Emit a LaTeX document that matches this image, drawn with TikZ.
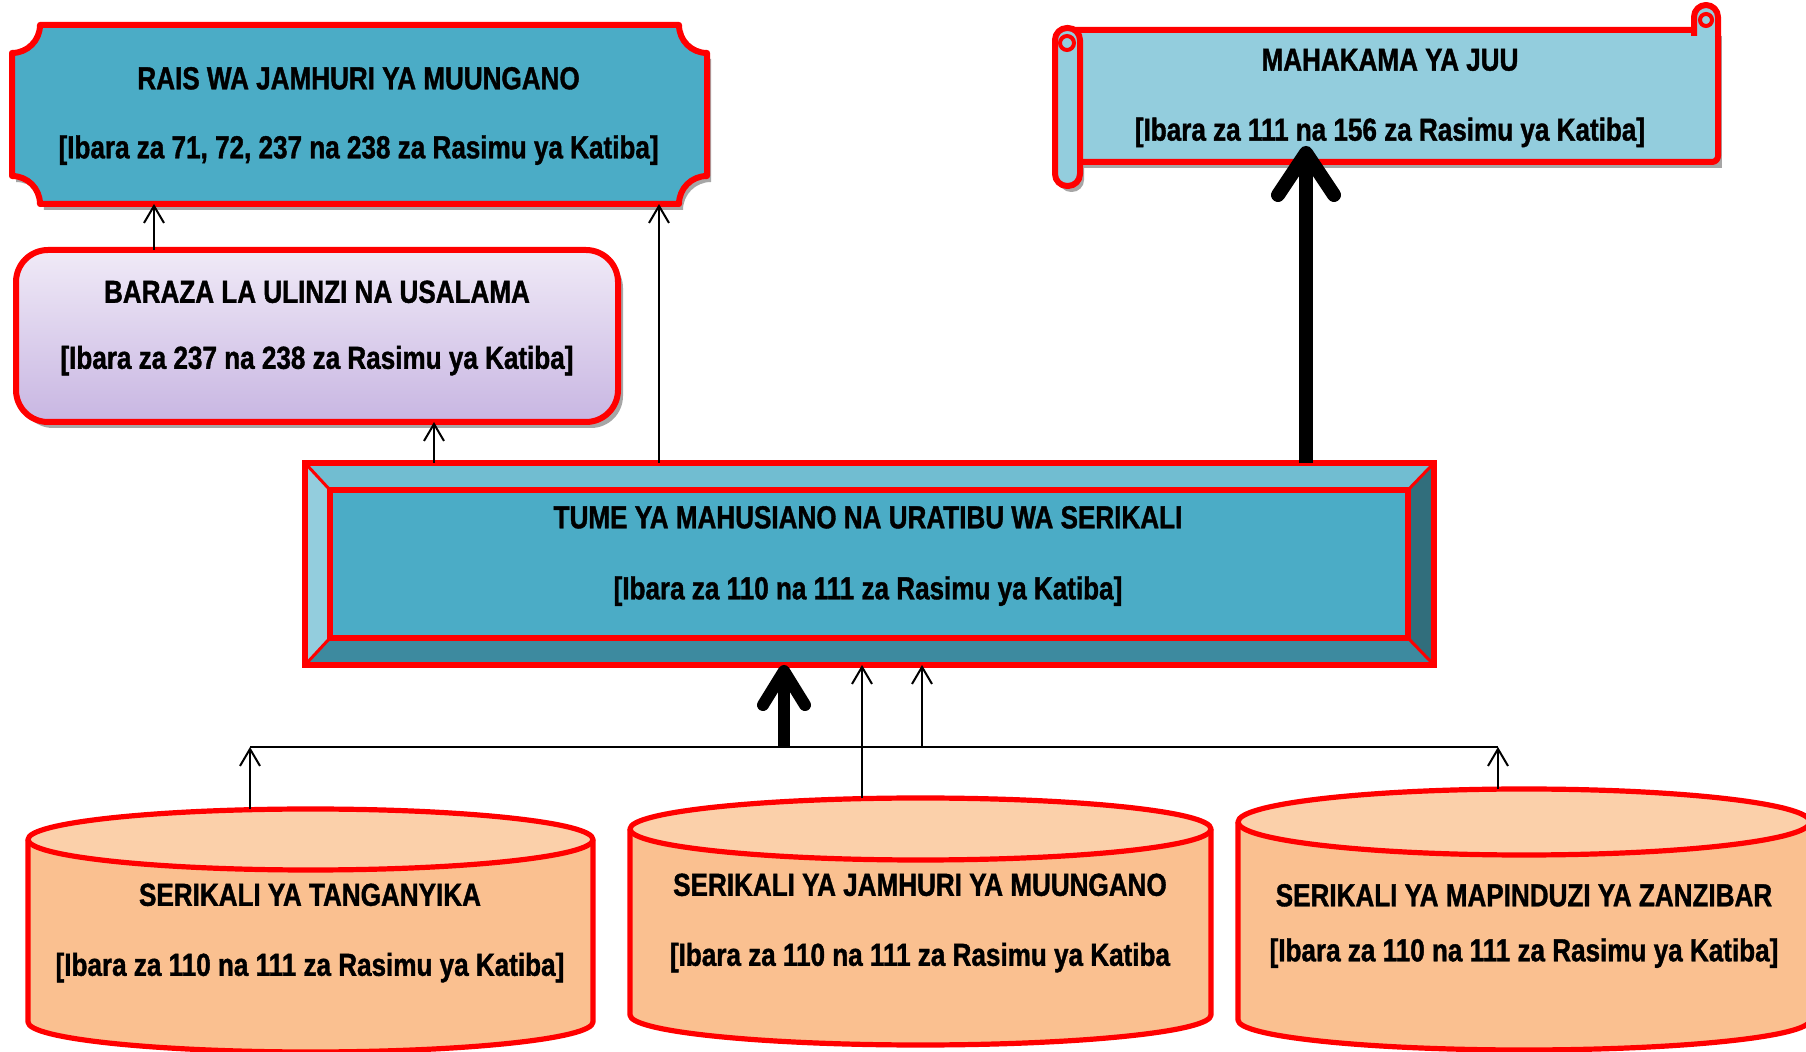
\documentclass[tikz,border=0pt]{standalone}
\usepackage{fontspec}
\setmainfont{Liberation Sans}[FakeStretch=0.82, BoldFeatures={FakeBold=1.2}]
\usetikzlibrary{arrows.meta}
\definecolor{plaqueblue}{HTML}{4BACC6}
\definecolor{scrollblue}{HTML}{93CDDD}
\definecolor{bvtop}{HTML}{71BDD1}
\definecolor{bvleft}{HTML}{93CDDD}
\definecolor{bvright}{HTML}{316E7C}
\definecolor{bvbot}{HTML}{3D8A9F}
\definecolor{cylbody}{HTML}{FAC090}
\definecolor{cyltop}{HTML}{FBD0AA}
\definecolor{lavtop}{HTML}{F0EAF7}
\definecolor{lavbot}{HTML}{C8B6E2}
\definecolor{shadowgray}{HTML}{A6A6A6}
\newcommand\lblf[1]{\fontsize{15.9}{#1}\selectfont\bfseries}
\begin{document}
\begin{tikzpicture}[x=0.5pt,y=-0.5pt,
  anch/.style={inner sep=0pt, outer sep=0pt, draw=none},
  lbl/.style={inner sep=0pt, align=center, text=black},
  redline/.style={draw=red, line width=3pt, line join=round},
  cylline/.style={draw=red, line width=2.6pt, line join=round},
  thinarr/.style={draw=black, line width=1pt, -{Straight Barb[length=8.5pt,width=10pt]}},
  bigarr/.style={draw=black, line width=7pt, -{Straight Barb[length=21pt,width=28pt,round]}},
  midarr/.style={draw=black, line width=6pt, -{Straight Barb[length=17pt,width=21pt,round]}},
  busline/.style={draw=black, line width=1pt}
]
\useasboundingbox (0,0) rectangle (1806,1052);
\fill[white] (0,0) rectangle (1806,1052);

% ---------- RAIS plaque ----------
\begin{scope}[shift={(4,6)}]
\fill[shadowgray] (40,25) -- (679,25) .. controls (679,40.5) and (691.5,53) .. (707,53) -- (707,176) .. controls (691.5,176) and (679,188.5) .. (679,204) -- (40,204) .. controls (40,188.5) and (27.5,176) .. (12,176) -- (12,53) .. controls (27.5,53) and (40,40.5) .. (40,25) -- cycle;
\end{scope}
\filldraw[fill=plaqueblue, redline] (40,25) -- (679,25) .. controls (679,40.5) and (691.5,53) .. (707,53) -- (707,176) .. controls (691.5,176) and (679,188.5) .. (679,204) -- (40,204) .. controls (40,188.5) and (27.5,176) .. (12,176) -- (12,53) .. controls (27.5,53) and (40,40.5) .. (40,25) -- cycle;
\node[anch, minimum width=347.5pt, minimum height=89.5pt] (rais) at (359.5,114.5) {};
\node[lbl, font=\lblf{34.5}] (rais-t) at (358.6,116) {RAIS WA JAMHURI YA MUUNGANO\\{[}Ibara za 71, 72, 237 na 238 za Rasimu ya Katiba]};

% ---------- MAHAKAMA scroll ----------
\fill[shadowgray] (1071,36) rectangle (1722,168);
\fill[shadowgray, rounded corners=6pt] (1059,34) rectangle (1084,192);
\filldraw[fill=scrollblue, redline, rounded corners=3pt] (1067,30) rectangle (1718,162);
\filldraw[fill=scrollblue, redline, rounded corners=6pt] (1694,36) -- (1694,5) -- (1718,5) -- (1718,36);
\draw[red, line width=2pt] (1706,20) circle[radius=6];
\filldraw[fill=scrollblue, redline, rounded corners=6pt] (1055,28) rectangle (1080,186);
\draw[red, line width=2pt] (1067,43) circle[radius=7];
\node[lbl, font=\lblf{35}] (mahakama) at (1390,98) {MAHAKAMA YA JUU\\{[}Ibara za 111 na 156 za Rasimu ya Katiba]};

% ---------- BARAZA ----------
\fill[shadowgray, rounded corners=16pt] (21,256) rectangle (623,428);
\node[anch, draw=red, line width=3pt, rounded corners=16pt, top color=lavtop, bottom color=lavbot, minimum width=301pt, minimum height=86pt] (baraza) at (317,336) {};
\node[lbl, font=\lblf{33}] (baraza-t) at (317,328) {BARAZA LA ULINZI NA USALAMA\\{[}Ibara za 237 na 238 za Rasimu ya Katiba]};

% ---------- TUME bevel ----------
\fill[bvtop] (305,463) -- (1434,463) -- (1408,490) -- (330,490) -- cycle;
\fill[bvleft] (305,463) -- (330,490) -- (330,638) -- (305,665) -- cycle;
\fill[bvright] (1434,463) -- (1434,665) -- (1408,638) -- (1408,490) -- cycle;
\fill[bvbot] (305,665) -- (330,638) -- (1408,638) -- (1434,665) -- cycle;
\fill[plaqueblue] (330,490) rectangle (1408,638);
\draw[red, line width=1.5pt] (305,463) -- (330,490) (1434,463) -- (1408,490) (305,665) -- (330,638) (1434,665) -- (1408,638);
\draw[red, line width=2.6pt] (330,490) rectangle (1408,638);
\draw[red, line width=2.8pt] (305,463) rectangle (1434,665);
\node[anch, minimum width=564.5pt, minimum height=101pt] (tume) at (869.5,564) {};
\node[lbl, font=\lblf{35.5}] (tume-t) at (868,556) {TUME YA MAHUSIANO NA URATIBU WA SERIKALI\\{[}Ibara za 110 na 111 za Rasimu ya Katiba]};

% ---------- Cylinders ----------
% left
\filldraw[fill=cylbody, cylline] (28,839.5) -- (28,1022) .. controls (28,1038.6) and (154.5,1052) .. (310.5,1052) .. controls (466.5,1052) and (593,1038.6) .. (593,1022) -- (593,839.5);
\filldraw[fill=cyltop, cylline] (310.5,839.5) ellipse[x radius=282.5, y radius=30.5];
\node[anch, minimum width=282.5pt, minimum height=121.5pt] (tang) at (310.5,930.5) {};
\node[lbl, font=\lblf{35}] (tang-t) at (310,933) {SERIKALI YA TANGANYIKA\\{[}Ibara za 110 na 111 za Rasimu ya Katiba]};
% middle
\filldraw[fill=cylbody, cylline] (630,829) -- (630,1015) .. controls (630,1031.6) and (760.1,1045) .. (920.5,1045) .. controls (1080.9,1045) and (1211,1031.6) .. (1211,1015) -- (1211,829);
\filldraw[fill=cyltop, cylline] (920.5,829) ellipse[x radius=290.5, y radius=31];
\node[anch, minimum width=290.5pt, minimum height=123.5pt] (jmm) at (920.5,921.5) {};
\node[lbl, font=\lblf{35}] (jmm-t) at (920,923) {SERIKALI YA JAMHURI YA MUUNGANO\\{[}Ibara za 110 na 111 za Rasimu ya Katiba};
% right
\filldraw[fill=cylbody, cylline] (1238,822) -- (1238,1020) .. controls (1238,1036.6) and (1366,1050) .. (1524,1050) .. controls (1682,1050) and (1810,1036.6) .. (1810,1020) -- (1810,822);
\filldraw[fill=cyltop, cylline] (1524,822) ellipse[x radius=286, y radius=33];
\node[anch, minimum width=286pt, minimum height=130.5pt] (zanz) at (1524,919.5) {};
\node[lbl, font=\lblf{27.5}] (zanz-t) at (1524,926) {SERIKALI YA MAPINDUZI YA ZANZIBAR\\{[}Ibara za 110 na 111 za Rasimu ya Katiba]};

% ---------- Connectors ----------
\coordinate (busL) at (250,747);
\coordinate (busR) at (1498,747);
\coordinate (mtip) at (1306,146);
\draw[busline] (busL) -- (busR);
\draw[thinarr] (busL |- tang.north) -- (busL);
\draw[thinarr] (busR |- zanz.north) -- (busR);
\draw[midarr] (784,0 |- busL) -- (784,0 |- tume.south);
\draw[thinarr] (862,0 |- jmm.north) -- (862,0 |- tume.south);
\draw[thinarr] (922,0 |- busL) -- (922,0 |- tume.south);
\draw[thinarr] (434,0 |- tume.north) -- (434,0 |- baraza.south);
\draw[thinarr] (659,0 |- tume.north) -- (659,0 |- rais.south);
\draw[thinarr] (154,0 |- baraza.north) -- (154,0 |- rais.south);
\draw[bigarr] (1306,0 |- tume.north) -- (mtip);
\end{tikzpicture}
\end{document}
